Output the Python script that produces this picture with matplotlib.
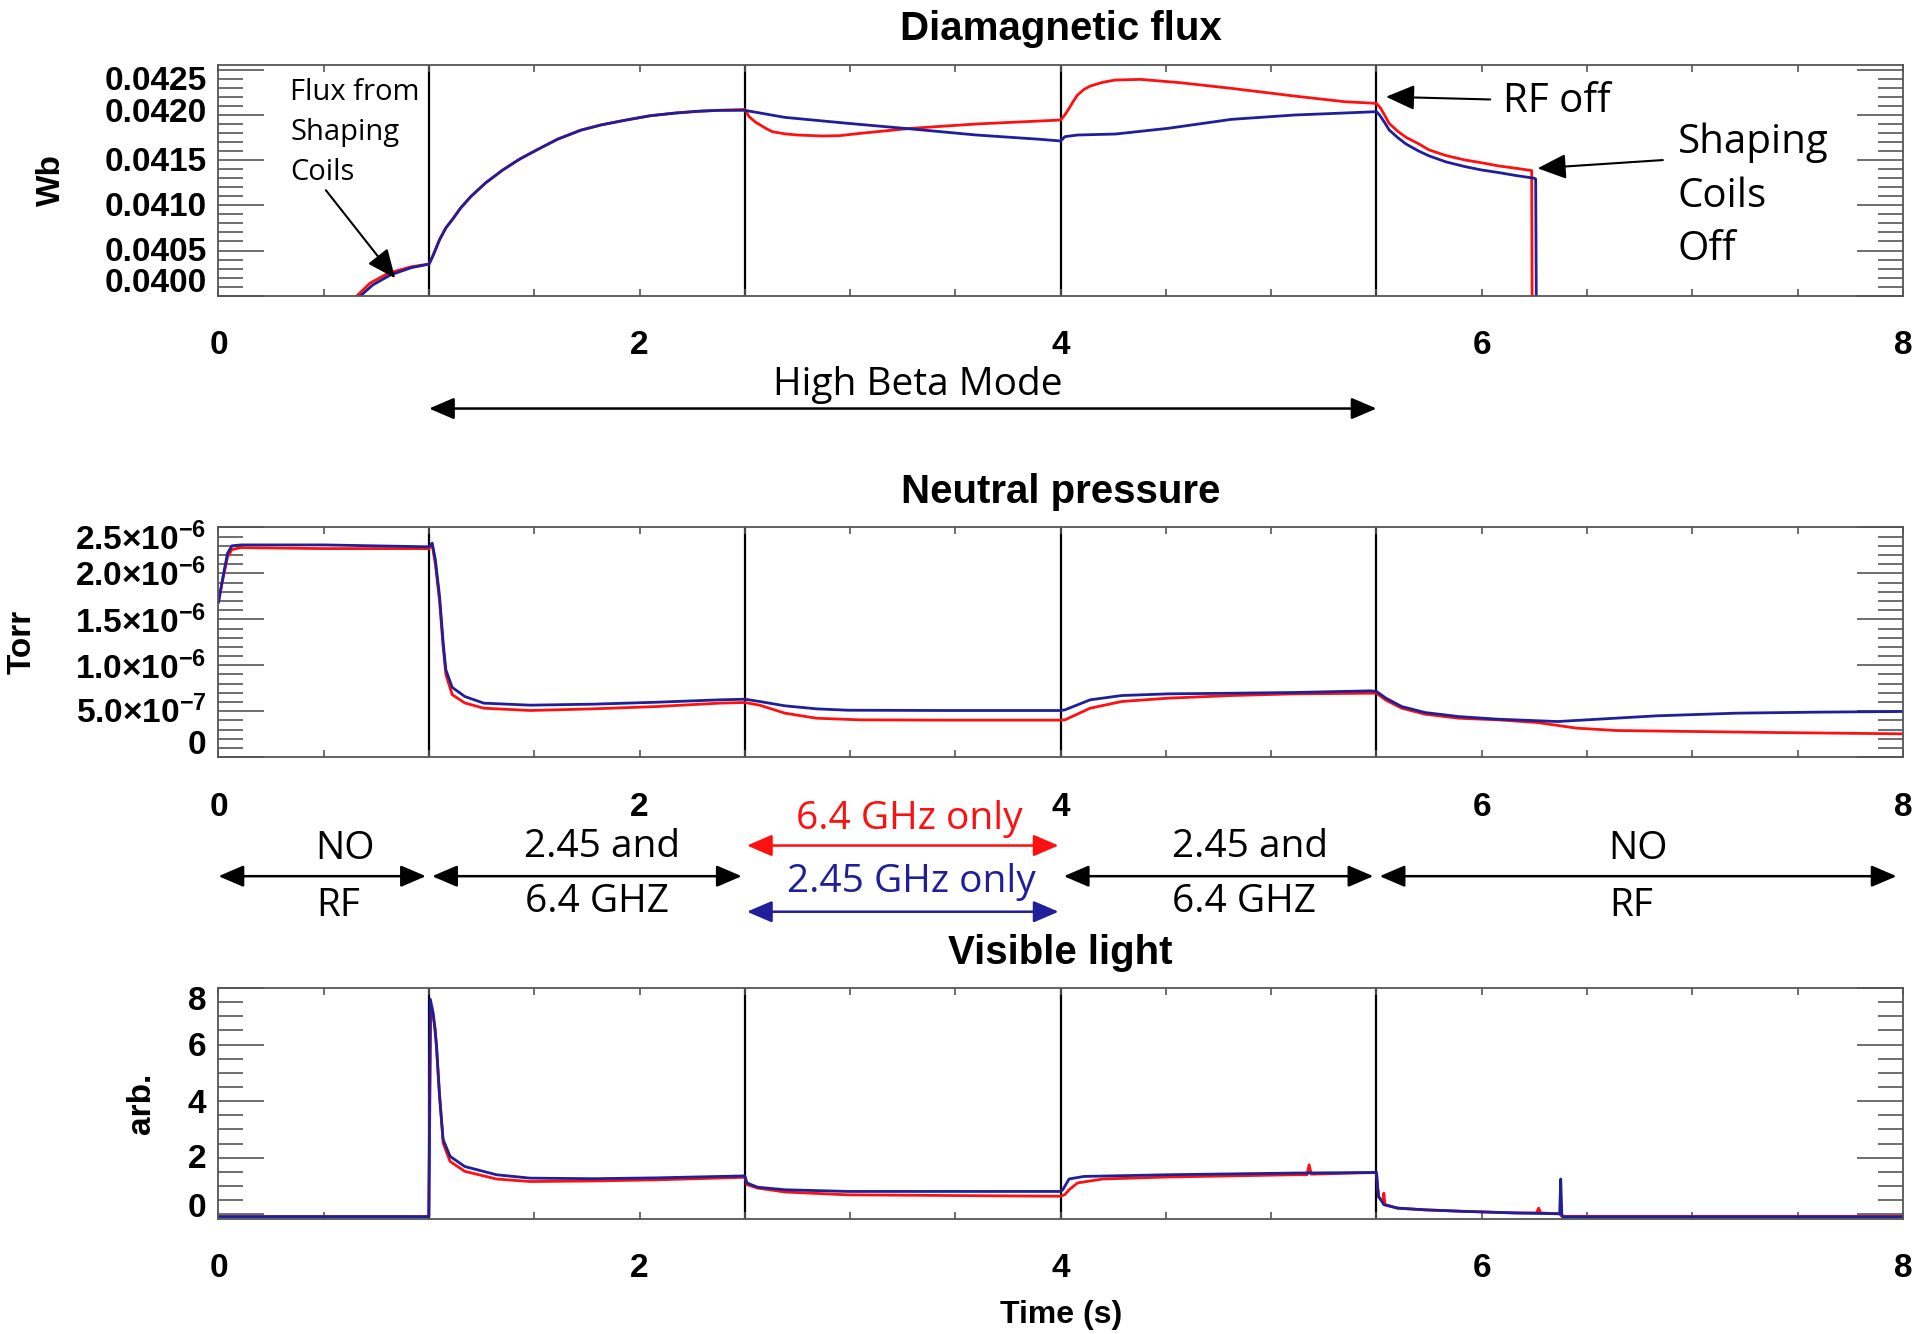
import numpy as np
import matplotlib
matplotlib.use('Agg')
import matplotlib.pyplot as plt
from matplotlib.ticker import MultipleLocator
from matplotlib.transforms import ScaledTranslation

# ---- data ----
# phase boundaries (s)
bounds = [1.0, 2.5, 4.0, 5.5]

# diamagnetic flux (Wb)
flux_t_red = [0.63, 0.658, 0.72, 0.807, 0.915, 1.0, 1.02, 1.05, 1.08, 1.11, 1.15, 1.20, 1.27,
              1.35, 1.43, 1.51, 1.61, 1.72, 1.82, 1.93, 2.05, 2.17, 2.28, 2.38, 2.5, 2.52,
              2.55, 2.60, 2.63, 2.69, 2.75, 2.87, 2.95, 3.05, 3.29, 3.60, 3.90, 4.0, 4.02,
              4.04, 4.06, 4.08, 4.11, 4.14, 4.20, 4.26, 4.38, 4.57, 4.81, 5.11, 5.35, 5.5,
              5.51, 5.52, 5.54, 5.56, 5.60, 5.64, 5.70, 5.75, 5.83, 5.92, 6.0, 6.08, 6.16,
              6.237, 6.24]
flux_red = [0.03995, 0.04000, 0.04014, 0.04025, 0.04032, 0.04035, 0.04045, 0.04062, 0.04075,
            0.04084, 0.04097, 0.04110, 0.04125, 0.04139, 0.04151, 0.04161, 0.04173, 0.04183,
            0.04189, 0.04194, 0.04199, 0.04202, 0.04204, 0.04205, 0.04206, 0.04198, 0.04192,
            0.04185, 0.041814, 0.04179, 0.041777, 0.041766, 0.04177, 0.041796, 0.041851,
            0.041899, 0.041932, 0.041943, 0.04200, 0.042072, 0.04215, 0.042219, 0.04228,
            0.042318, 0.04236, 0.042385, 0.042392, 0.042355, 0.042293, 0.042208, 0.042145,
            0.042127, 0.04210, 0.042072, 0.04199, 0.041906, 0.04182, 0.041752, 0.04168,
            0.041612, 0.04155, 0.041501, 0.04147, 0.041435, 0.04141, 0.041384, 0.03950]
flux_t_blue = [0.65, 0.675, 0.733, 0.817, 0.915, 1.0, 1.02, 1.05, 1.08, 1.11, 1.15, 1.20, 1.27,
               1.35, 1.43, 1.51, 1.61, 1.72, 1.82, 1.93, 2.05, 2.17, 2.28, 2.38, 2.5, 2.69,
               2.99, 3.29, 3.60, 3.90, 4.0, 4.02, 4.08, 4.26, 4.51, 4.81, 5.11, 5.5, 5.51,
               5.52, 5.54, 5.56, 5.60, 5.64, 5.70, 5.75, 5.83, 5.92, 6.0, 6.08, 6.16, 6.25,
               6.256, 6.26]
flux_blue = [0.03995, 0.04000, 0.04012, 0.04023, 0.04031, 0.04035, 0.04045, 0.04062, 0.04075,
             0.04084, 0.04097, 0.04110, 0.04125, 0.04139, 0.04151, 0.04161, 0.04173, 0.04183,
             0.04189, 0.04194, 0.04199, 0.04202, 0.04204, 0.04205, 0.04205, 0.041972,
             0.041906, 0.041844, 0.041777, 0.041730, 0.041711, 0.041759, 0.041777, 0.041788,
             0.041851, 0.04195, 0.041998, 0.042035, 0.04201, 0.04198, 0.04191, 0.041833,
             0.04175, 0.041678, 0.04160, 0.041546, 0.04148, 0.041428, 0.04139, 0.041362,
             0.04133, 0.041299, 0.041290, 0.03950]

# neutral pressure (1e-6 Torr)
press_t_blue = [0.0, 0.021, 0.043, 0.064, 0.106, 0.5, 0.98, 1.0, 1.015, 1.03, 1.05, 1.067,
                1.08, 1.11, 1.17, 1.26, 1.48, 1.78, 2.08, 2.38, 2.5, 2.57, 2.69, 2.84, 2.99,
                3.45, 4.0, 4.02, 4.14, 4.29, 4.51, 4.81, 5.11, 5.47, 5.5, 5.545, 5.62, 5.73,
                5.89, 6.08, 6.36, 6.55, 6.83, 7.21, 7.59, 8.0]
press_blue = [1.69, 1.96, 2.22, 2.30, 2.31, 2.31, 2.29, 2.29, 2.33, 2.15, 1.75, 1.25,
              0.95, 0.76, 0.66, 0.588, 0.566, 0.577, 0.598, 0.624, 0.631, 0.606, 0.559, 0.526,
              0.511, 0.508, 0.508, 0.515, 0.624, 0.671, 0.689, 0.696, 0.704, 0.722, 0.715,
              0.642, 0.551, 0.486, 0.442, 0.413, 0.388, 0.413, 0.450, 0.479, 0.490, 0.497]
press_t_red = [0.0, 0.021, 0.043, 0.064, 0.106, 0.5, 0.98, 1.0, 1.015, 1.03, 1.05, 1.067,
               1.08, 1.11, 1.17, 1.26, 1.48, 1.78, 2.08, 2.38, 2.5, 2.57, 2.69, 2.84, 3.05,
               3.45, 4.0, 4.02, 4.14, 4.29, 4.51, 4.81, 5.11, 5.47, 5.5, 5.545, 5.62, 5.73,
               5.89, 6.08, 6.265, 6.45, 6.64, 7.02, 7.40, 8.0]
press_red = [1.69, 1.94, 2.18, 2.26, 2.28, 2.27, 2.27, 2.27, 2.31, 2.10, 1.70, 1.20,
             0.90, 0.68, 0.59, 0.533, 0.508, 0.526, 0.551, 0.588, 0.595, 0.566, 0.479, 0.424,
             0.406, 0.403, 0.403, 0.406, 0.533, 0.606, 0.642, 0.671, 0.689, 0.696, 0.696,
             0.62, 0.533, 0.468, 0.424, 0.406, 0.377, 0.316, 0.290, 0.279, 0.268, 0.254]

# visible light (arb.)
light_t_blue = [0.0, 0.999, 1.006, 1.02, 1.036, 1.05, 1.067, 1.10, 1.17, 1.32, 1.48, 1.78,
                2.08, 2.5, 2.51, 2.56, 2.69, 2.99, 4.0, 4.01, 4.04, 4.11, 4.51, 5.11, 5.5,
                5.505, 5.51, 5.535, 5.60, 5.73, 5.90, 6.16, 6.37, 6.375, 6.38, 6.385, 8.0]
light_blue = [-0.08, -0.08, 7.6, 7.1, 5.93, 4.16, 2.64, 2.05, 1.69, 1.40, 1.28, 1.26,
              1.29, 1.36, 1.11, 0.96, 0.87, 0.81, 0.81, 0.87, 1.25, 1.34, 1.40, 1.46, 1.48,
              0.99, 0.64, 0.34, 0.22, 0.16, 0.11, 0.05, 0.02, 1.25, 0.02, -0.09, -0.09]
light_t_red = [0.0, 0.999, 1.008, 1.02, 1.03, 1.045, 1.067, 1.10, 1.17, 1.32, 1.48, 1.78,
               2.08, 2.5, 2.51, 2.56, 2.69, 2.99, 3.6, 4.0, 4.02, 4.04, 4.08, 4.20, 4.51,
               5.11, 5.17, 5.18, 5.19, 5.5, 5.505, 5.51, 5.53, 5.535, 5.54, 5.60, 5.73, 5.90,
               6.16, 6.26, 6.27, 6.28, 6.37, 6.38, 8.0]
light_red = [-0.08, -0.08, 7.2, 7.0, 6.52, 4.75, 2.52, 1.87, 1.52, 1.25, 1.16, 1.18,
             1.22, 1.31, 1.05, 0.93, 0.79, 0.69, 0.66, 0.64, 0.70, 0.87, 1.11, 1.25, 1.32,
             1.40, 1.40, 1.75, 1.42, 1.48, 1.0, 0.6, 0.45, 0.75, 0.35, 0.22, 0.16, 0.11,
             0.05, 0.05, 0.22, 0.05, 0.02, -0.07, -0.07]

flux_ticks = [0.0400, 0.0405, 0.0410, 0.0415, 0.0420, 0.0425]
flux_labels = ['0.0400', '0.0405', '0.0410', '0.0415', '0.0420', '0.0425']
press_ticks = [0.0, 0.5e-6, 1.0e-6, 1.5e-6, 2.0e-6, 2.5e-6]
press_labels = ['0', r'5.0$\times$10$^{-7}$', r'1.0$\times$10$^{-6}$', r'1.5$\times$10$^{-6}$',
                r'2.0$\times$10$^{-6}$', r'2.5$\times$10$^{-6}$']
light_ticks = [0, 2, 4, 6, 8]
light_labels = ['0', '2', '4', '6', '8']

# ---- style ----
plt.rcParams['font.family'] = ['Liberation Sans', 'DejaVu Sans']
plt.rcParams['font.weight'] = 'bold'
plt.rcParams['mathtext.fontset'] = 'custom'
plt.rcParams['mathtext.rm'] = 'Liberation Sans:bold'
plt.rcParams['mathtext.default'] = 'rm'
ANN = ['Open Sans', 'DejaVu Sans']
RED = '#ff1010'
BLUE = '#1f1f99'

fig = plt.figure(figsize=(19.25, 13.34), dpi=100)
L, W, H = 0.1135, 0.875, 0.1729
ax1 = fig.add_axes([L, 0.7783, W, H])
ax2 = fig.add_axes([L, 0.4324, W, H])
ax3 = fig.add_axes([L, 0.0865, W, H])


def style(ax, ticks, labels, yminor, shifts):
    ax.set_xlim(0, 8)
    ax.xaxis.set_major_locator(MultipleLocator(2))
    ax.xaxis.set_minor_locator(MultipleLocator(0.5))
    ax.set_yticks(ticks)
    ax.set_yticklabels([])
    ax.yaxis.set_minor_locator(MultipleLocator(yminor))
    ax.tick_params(which='both', direction='in', top=True, right=True, color='#555555', width=1.2)
    ax.tick_params(axis='x', which='both', length=5, pad=25, labelsize=24)
    ax.tick_params(axis='y', which='major', length=33)
    ax.tick_params(axis='y', which='minor', length=18)
    for s in ax.spines.values():
        s.set_color('#555555')
        s.set_linewidth(1.3)
        s.set_linestyle((0, (2, 1)))
    for t in bounds:
        ax.axvline(t, color='black', lw=1.6, zorder=1)
    # y tick labels drawn by hand so the end ones can sit inside the frame
    for v, lab, dy in zip(ticks, labels, shifts):
        tr = ax.get_yaxis_transform() + ScaledTranslation(-0.12, dy / 100, fig.dpi_scale_trans)
        ax.text(0, v, lab, transform=tr, ha='right', va='center', fontsize=24, fontweight='bold')


style(ax1, flux_ticks, flux_labels, 0.0001, [12, -2, -2, -2, 1, -12])
ax1.set_ylim(0.0400, 0.04255)
ax1.plot(flux_t_red, flux_red, color=RED, lw=2)
ax1.plot(flux_t_blue, flux_blue, color=BLUE, lw=2)

style(ax2, press_ticks, press_labels, 1e-7, [12, -2, -4, -4, -2, -12])
ax2.set_ylim(0, 2.51e-6)
ax2.plot(press_t_red, np.array(press_red) * 1e-6, color=RED, lw=2)
ax2.plot(press_t_blue, np.array(press_blue) * 1e-6, color=BLUE, lw=2)

style(ax3, light_ticks, light_labels, 0.5, [6, -2, -3, -3, -14])
ax3.set_ylim(-0.15, 8.0)
ax3.plot(light_t_red, light_red, color=RED, lw=2)
ax3.plot(light_t_blue, light_blue, color=BLUE, lw=2)

# titles and axis labels
for ax, title, ty in [(ax1, 'Diamagnetic flux', 1.155), (ax2, 'Neutral pressure', 1.15),
                      (ax3, 'Visible light', 1.15)]:
    ax.text(0.5, ty, title, transform=ax.transAxes, ha='center', va='center',
            fontsize=29, fontweight='bold')
ax1.text(-0.099, 0.5, 'Wb', transform=ax1.transAxes, rotation=90, ha='center', va='center',
         fontsize=24, fontweight='bold')
ax2.text(-0.1166, 0.5, 'Torr', transform=ax2.transAxes, rotation=90, ha='center', va='center',
         fontsize=24, fontweight='bold')
ax3.text(-0.046, 0.5, 'arb.', transform=ax3.transAxes, rotation=90, ha='center', va='center',
         fontsize=24, fontweight='bold')
ax3.text(0.5, -0.42, 'Time (s)', transform=ax3.transAxes, ha='center', va='center',
         fontsize=23, fontweight='bold')

# annotations on the flux panel
one = dict(arrowstyle='-|>,head_length=0.8,head_width=0.35', color='black', lw=1.5,
           mutation_scale=22, shrinkA=0, shrinkB=0)
ax1.text(0.34, 0.04180, 'Flux from\nShaping\nCoils', fontsize=21, family=ANN, fontweight='normal',
         ha='left', va='center', linespacing=1.5)
ax1.annotate('', xy=(0.839, 0.040194), xytext=(0.51, 0.041167), arrowprops=one)
ax1.text(6.10, 0.04215, 'RF off', fontsize=29, family=ANN, fontweight='normal',
         ha='left', va='center')
ax1.annotate('', xy=(5.545, 0.0422), xytext=(6.04, 0.04217), arrowprops=one)
ax1.text(6.93, 0.04110, 'Shaping\nCoils\nOff', fontsize=29, family=ANN, fontweight='normal',
         ha='left', va='center', linespacing=1.42)
ax1.annotate('', xy=(6.265, 0.041409), xytext=(6.86, 0.0415), arrowprops=one)

two = dict(arrowstyle='<|-|>,head_length=0.7,head_width=0.3', lw=1.8,
           mutation_scale=22, shrinkA=0, shrinkB=0)
xt1 = ax1.get_xaxis_transform()
ax1.annotate('', xy=(5.5, -0.489), xytext=(1.0, -0.489), xycoords=xt1,
             arrowprops=dict(two, color='black'), annotation_clip=False)
ax1.text(3.32, -0.385, 'High Beta Mode', transform=xt1, fontsize=28, family=ANN,
         fontweight='normal', ha='center', va='center')

# phase arrows between pressure and light panels
xt2 = ax2.get_xaxis_transform()
spans = [(0.0, 0.985), (1.015, 2.485), (4.015, 5.485), (5.515, 7.97)]
for a, b in spans:
    ax2.annotate('', xy=(b, -0.516), xytext=(a, -0.516), xycoords=xt2,
                 arrowprops=dict(two, color='black'), annotation_clip=False)
ax2.annotate('', xy=(3.99, -0.383), xytext=(2.51, -0.383), xycoords=xt2,
             arrowprops=dict(two, color=RED), annotation_clip=False)
ax2.annotate('', xy=(3.99, -0.670), xytext=(2.51, -0.670), xycoords=xt2,
             arrowprops=dict(two, color=BLUE), annotation_clip=False)

band = [(0.60, -0.399, 'NO', 'black'), (0.57, -0.644, 'RF', 'black'),
        (1.82, -0.388, '2.45 and', 'black'), (1.80, -0.628, '6.4 GHZ', 'black'),
        (3.28, -0.266, '6.4 GHz only', RED), (3.29, -0.543, '2.45 GHz only', BLUE),
        (4.90, -0.388, '2.45 and', 'black'), (4.87, -0.628, '6.4 GHZ', 'black'),
        (6.74, -0.399, 'NO', 'black'), (6.71, -0.644, 'RF', 'black')]
for x, y, s, c in band:
    ax2.text(x, y, s, transform=xt2, fontsize=28, family=ANN, fontweight='normal',
             color=c, ha='center', va='center')

fig.savefig('out.png', dpi=100)
